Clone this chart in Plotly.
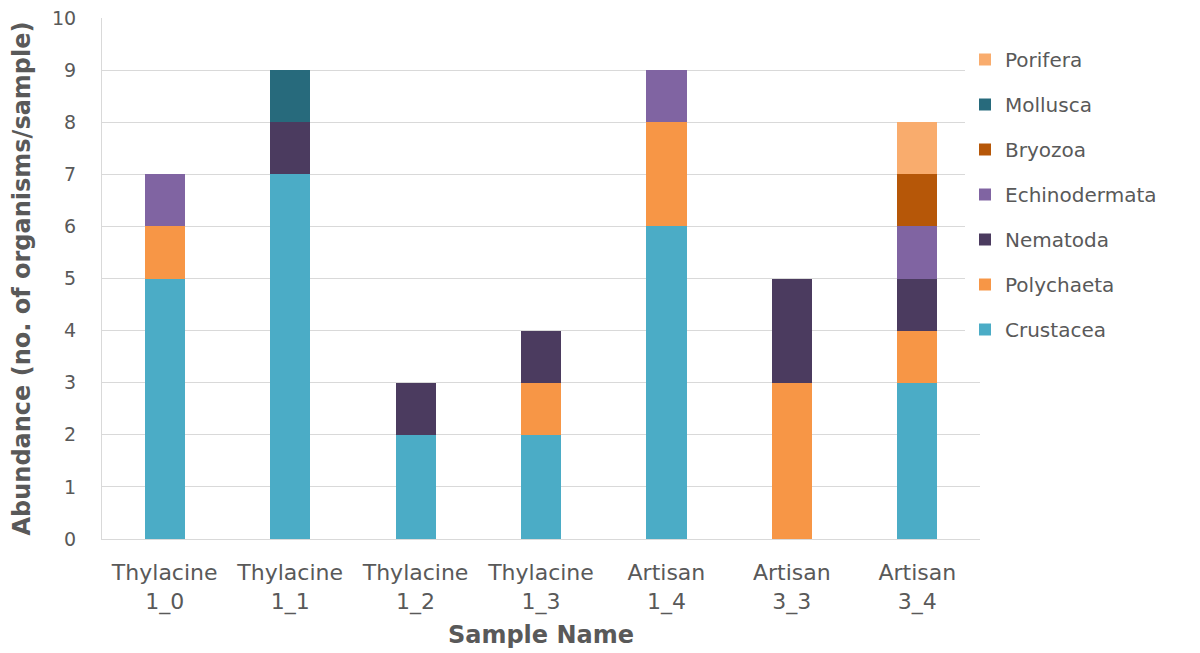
import plotly.graph_objects as go

samples = ["Thylacine<br>1_0", "Thylacine<br>1_1", "Thylacine<br>1_2", "Thylacine<br>1_3",
           "Artisan<br>1_4", "Artisan<br>3_3", "Artisan<br>3_4"]
crustacea = [5, 7, 2, 2, 6, 0, 3]
polychaeta = [1, 0, 0, 1, 2, 3, 1]
nematoda = [0, 1, 1, 1, 0, 2, 1]
echinodermata = [1, 0, 0, 0, 1, 0, 1]
bryozoa = [0, 0, 0, 0, 0, 0, 1]
mollusca = [0, 1, 0, 0, 0, 0, 0]
porifera = [0, 0, 0, 0, 0, 0, 1]

series = [
    ("Crustacea", crustacea, "#4BACC6"),
    ("Polychaeta", polychaeta, "#F79646"),
    ("Nematoda", nematoda, "#4B3B5F"),
    ("Echinodermata", echinodermata, "#8064A2"),
    ("Bryozoa", bryozoa, "#B65708"),
    ("Mollusca", mollusca, "#276A7C"),
    ("Porifera", porifera, "#F9AC6D"),
]

fig = go.Figure()
n = len(series)
for i, (name, vals, color) in enumerate(series):
    fig.add_trace(go.Bar(x=samples, y=vals, name=name, marker_color=color,
                         marker_line_width=0, legendgroup=name, legendrank=n - i))

font_main = "Verdana, DejaVu Sans, sans-serif"
fig.update_layout(
    barmode="stack",
    bargap=0.68,
    width=1192, height=645,
    margin=dict(l=94, r=220, t=10, b=114, autoexpand=False),
    paper_bgcolor="white", plot_bgcolor="white",
    font=dict(family=font_main, color="#595959", size=18),
    legend=dict(traceorder="grouped", x=(965 - 102) / 878, xanchor="left", y=1.0 - (40 - 18) / 521,
                yanchor="top",
                font=dict(size=20, color="#595959", family=font_main),
                tracegroupgap=16, itemwidth=30),
    showlegend=True,
)
fig.update_yaxes(range=[0, 10], dtick=1, showgrid=True, gridcolor="#D9D9D9", gridwidth=1,
                 showline=True, linecolor="#D9D9D9", zeroline=False, ticks="",
                 automargin=False,
                 ticklabelstandoff=21, ticklabeloverflow="allow",
                 tickfont=dict(size=19, color="#595959"),
                 title=dict(text="<b>Abundance (no. of organisms/sample)</b>", standoff=21,
                            font=dict(size=24, color="#595959")))
fig.update_xaxes(showline=True, linecolor="#D9D9D9", ticks="",
                 automargin=False,
                 ticklabelstandoff=14, ticklabeloverflow="allow",
                 tickfont=dict(size=22, color="#595959", family=font_main),
                 title=dict(text="<b>Sample Name</b>", standoff=12,
                            font=dict(size=24, color="#595959", family=font_main)))

fig.write_html("out.html")
